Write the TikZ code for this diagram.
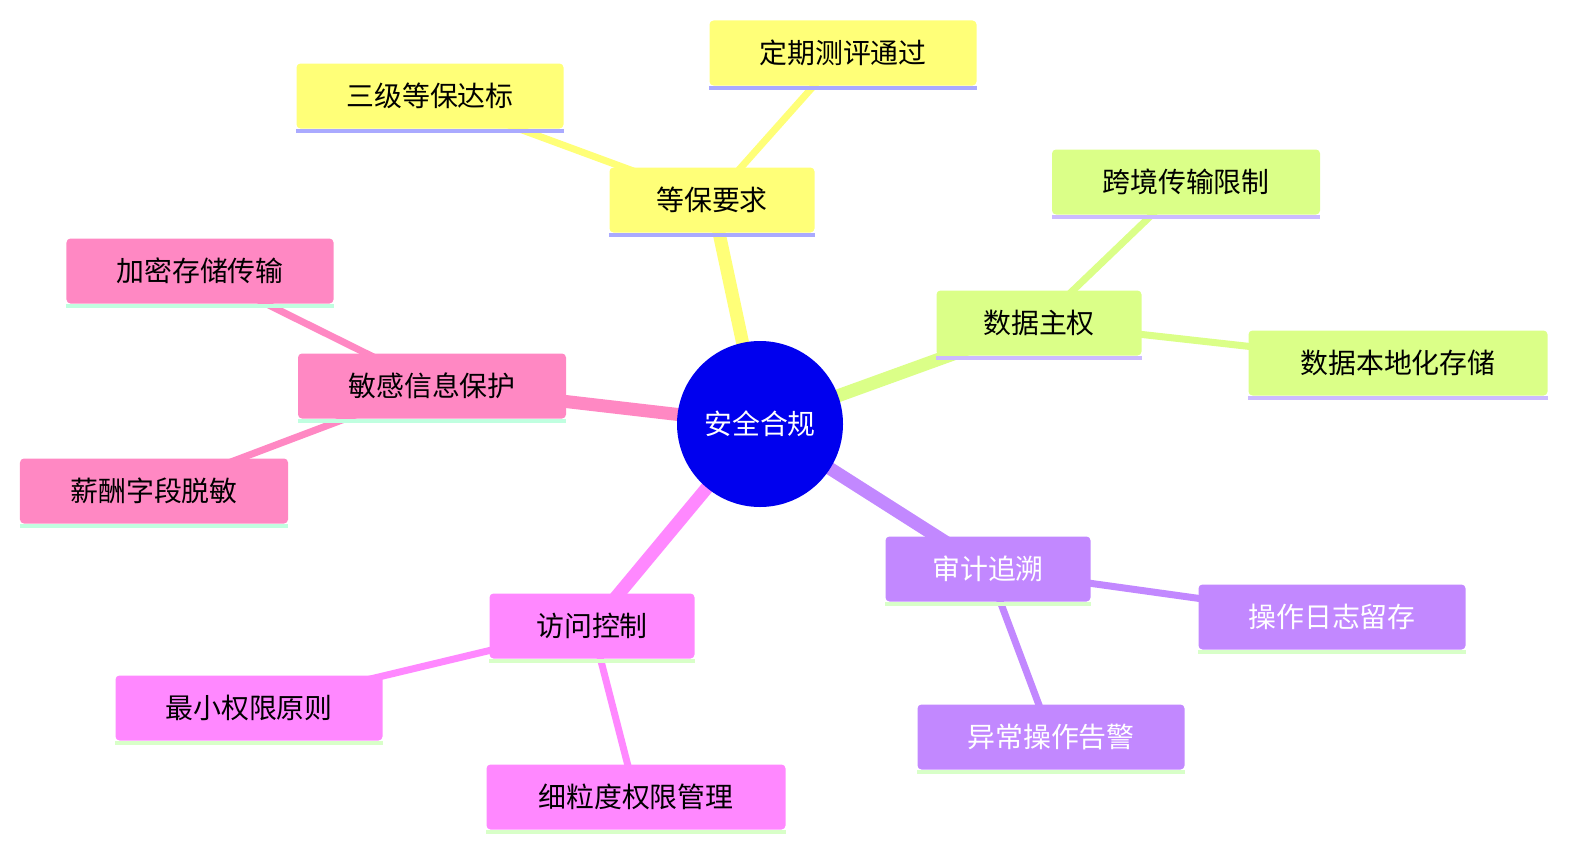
\documentclass[tikz,border=0pt]{standalone}
\usepackage{fontspec}
\setmainfont{Noto Sans CJK SC}
\begin{document}
\begin{tikzpicture}[x=1bp,y=-1bp,
  bx/.style={rounded corners=4bp,inner sep=0pt,font=\fontsize{28}{32}\selectfont},
  mainedge/.style={line width=13bp},
  leafedge/.style={line width=7bp}]
\definecolor{colY}{HTML}{FFFF78}
\definecolor{colG}{HTML}{DBFF88}
\definecolor{colP}{HTML}{C288FF}
\definecolor{colM}{HTML}{FF88FF}
\definecolor{colK}{HTML}{FF88C3}
\definecolor{unY}{HTML}{AAAAFF}
\definecolor{unG}{HTML}{CCBBFF}
\definecolor{unL}{HTML}{D8FFC8}
\definecolor{unK}{HTML}{C0FFE0}
\definecolor{rootcol}{HTML}{0000EE}
\useasboundingbox (0,0) rectangle (1592,863);
\coordinate (R) at (760,424);
\coordinate (A) at (712,200); \coordinate (A1) at (430,96); \coordinate (A2) at (843,53);
\coordinate (B) at (1039,323); \coordinate (B1) at (1186,182); \coordinate (B2) at (1398,363);
\coordinate (C) at (988,569); \coordinate (C1) at (1332,617); \coordinate (C2) at (1051,737);
\coordinate (D) at (592,626); \coordinate (D1) at (249,708); \coordinate (D2) at (636,797);
\coordinate (E) at (432,386); \coordinate (E1) at (200,271); \coordinate (E2) at (154,491);
\draw[mainedge,colY] (R)--(A); \draw[leafedge,colY] (A)--(A1); \draw[leafedge,colY] (A)--(A2);
\draw[mainedge,colG] (R)--(B); \draw[leafedge,colG] (B)--(B1); \draw[leafedge,colG] (B)--(B2);
\draw[mainedge,colP] (R)--(C); \draw[leafedge,colP] (C)--(C1); \draw[leafedge,colP] (C)--(C2);
\draw[mainedge,colM] (R)--(D); \draw[leafedge,colM] (D)--(D1); \draw[leafedge,colM] (D)--(D2);
\draw[mainedge,colK] (R)--(E); \draw[leafedge,colK] (E)--(E1); \draw[leafedge,colK] (E)--(E2);
\newcommand{\mmbox}[7]{%
  \node[bx,fill=#4,text=#6,minimum width=#2bp,minimum height=65bp] (#1) at (#3) {#7};
  \draw[#5,line width=4bp] ([yshift=-2bp]#1.south west) -- ([yshift=-2bp]#1.south east);}
\mmbox{a}{205}{A}{colY}{unY}{black}{等保要求}
\mmbox{a1}{267}{A1}{colY}{unY}{black}{三级等保达标}
\mmbox{a2}{267}{A2}{colY}{unY}{black}{定期测评通过}
\mmbox{b}{205}{B}{colG}{unG}{black}{数据主权}
\mmbox{b1}{268}{B1}{colG}{unG}{black}{跨境传输限制}
\mmbox{b2}{299}{B2}{colG}{unG}{black}{数据本地化存储}
\mmbox{c}{205}{C}{colP}{unL}{white}{审计追溯}
\mmbox{c1}{267}{C1}{colP}{unL}{white}{操作日志留存}
\mmbox{c2}{267}{C2}{colP}{unL}{white}{异常操作告警}
\mmbox{d}{205}{D}{colM}{unL}{black}{访问控制}
\mmbox{d1}{267}{D1}{colM}{unL}{black}{最小权限原则}
\mmbox{d2}{299}{D2}{colM}{unL}{black}{细粒度权限管理}
\mmbox{e}{268}{E}{colK}{unK}{black}{敏感信息保护}
\mmbox{e1}{267}{E1}{colK}{unK}{black}{加密存储传输}
\mmbox{e2}{268}{E2}{colK}{unK}{black}{薪酬字段脱敏}
\node[circle,fill=rootcol,text=white,minimum size=166bp,inner sep=0pt,font=\fontsize{28}{32}\selectfont] (r) at (R) {安全合规};
\end{tikzpicture}
\end{document}
